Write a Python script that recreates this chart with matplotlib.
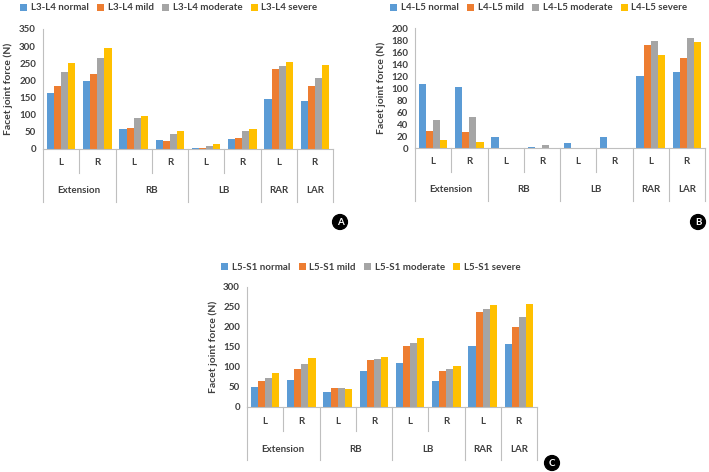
import matplotlib
matplotlib.use("Agg")
import matplotlib.pyplot as plt
import numpy as np

plt.rcParams['font.family'] = ['Lato', 'DejaVu Sans']

slots = ["L", "R", "L", "R", "L", "R", "L", "R"]
groups = ["Extension", "RB", "LB", "RAR", "LAR"]
group_centers = [0.5, 2.5, 4.5, 6, 7]
severities = ["normal", "mild", "moderate", "severe"]
colors = ["#5B9BD5", "#ED7D31", "#A5A5A5", "#FFC000"]

# L3-L4, one list per severity, 8 slots each
l34_normal = [163, 197, 58, 26, 3, 30, 146, 139]
l34_mild = [183, 219, 61, 22, 3, 33, 233, 183]
l34_moderate = [226, 266, 90, 44, 10, 53, 243, 208]
l34_severe = [252, 295, 96, 52, 15, 59, 253, 245]

# L4-L5
l45_normal = [107, 101, 18, 2, 8, 18, 120, 127]
l45_mild = [28, 26, 0, 0, 0, 0, 172, 150]
l45_moderate = [46, 52, 0, 5, 0, 0, 179, 184]
l45_severe = [13, 10, 0, 0, 0, 0, 155, 176]

# L5-S1
l5s1_normal = [49, 68, 38, 91, 111, 64, 153, 157]
l5s1_mild = [64, 95, 48, 118, 152, 90, 237, 199]
l5s1_moderate = [72, 107, 47, 120, 159, 94, 246, 224]
l5s1_severe = [84, 122, 44, 125, 172, 102, 255, 258]

W, H = 709, 472
fig = plt.figure(figsize=(W / 100, H / 100), dpi=100)

fs = 7
txt = dict(fontsize=fs, fontweight="bold", color="#404040")
line_col = "#BFBFBF"


def draw_panel(left, top, right, bottom, level, series, ymax, ystep,
               leg_cx, leg_cy, letter, letter_xy):
    ax = fig.add_axes([left / W, 1 - bottom / H, (right - left) / W, (bottom - top) / H])
    x = np.arange(len(slots))
    bw = 0.195
    for i, (vals, c) in enumerate(zip(series, colors)):
        ax.bar(x + (i - 1.5) * bw, vals, bw, color=c,
               label=f"{level} {severities[i]}")
    ax.set_xlim(-0.5, 7.5)
    ax.set_ylim(0, ymax)
    ax.set_yticks(np.arange(0, ymax + 1, ystep))
    ax.tick_params(axis="y", length=0, pad=5, labelsize=fs, labelcolor="#404040")
    for lab in ax.get_yticklabels():
        lab.set_fontweight("bold")
    ax.set_xticks([])
    for s in ["top", "right"]:
        ax.spines[s].set_visible(False)
    ax.spines["left"].set_color(line_col)
    ax.spines["bottom"].set_color(line_col)
    ax.set_ylabel("Facet joint force (N)", labelpad=4, fontsize=7.5,
                  fontweight="bold", color="#404040")

    h = bottom - top
    tr = ax.get_xaxis_transform()
    for xi, s in zip(x, slots):
        ax.text(xi, -14 / h, s, transform=tr, ha="center", va="center", **txt)
    for gx, g in zip(group_centers, groups):
        ax.text(gx, -42 / h, g, transform=tr, ha="center", va="center", **txt)
    for sx in [0.5, 2.5, 4.5]:
        ax.plot([sx, sx], [0, -24 / h], transform=tr, color=line_col, lw=0.8, clip_on=False)
    for sx in [-0.5, 1.5, 3.5, 5.5, 6.5, 7.5]:
        ax.plot([sx, sx], [0, -53 / h], transform=tr, color=line_col, lw=0.8, clip_on=False)

    ax.legend(loc="center", bbox_to_anchor=(leg_cx / W, 1 - leg_cy / H),
              bbox_transform=fig.transFigure, ncol=4, frameon=False,
              handlelength=0.7, handleheight=0.7, handletextpad=0.4,
              columnspacing=0.85, prop=dict(size=fs, weight="bold"),
              labelcolor="#404040")

    fig.text(letter_xy[0] / W, 1 - letter_xy[1] / H, letter, ha="center", va="center",
             color="white", fontsize=7, fontweight="bold",
             bbox=dict(boxstyle="circle,pad=0.3", fc="black", ec="black"))


draw_panel(43, 29, 333, 149, "L3-L4",
           [l34_normal, l34_mild, l34_moderate, l34_severe], 350, 50,
           169, 8, "A", (340, 222))
draw_panel(415, 28, 705, 148, "L4-L5",
           [l45_normal, l45_mild, l45_moderate, l45_severe], 200, 20,
           539, 8, "B", (698, 222))
draw_panel(247, 287, 537, 407, "L5-S1",
           [l5s1_normal, l5s1_mild, l5s1_moderate, l5s1_severe], 300, 50,
           371, 267, "C", (552, 463))

fig.savefig("out.png", dpi=100)
